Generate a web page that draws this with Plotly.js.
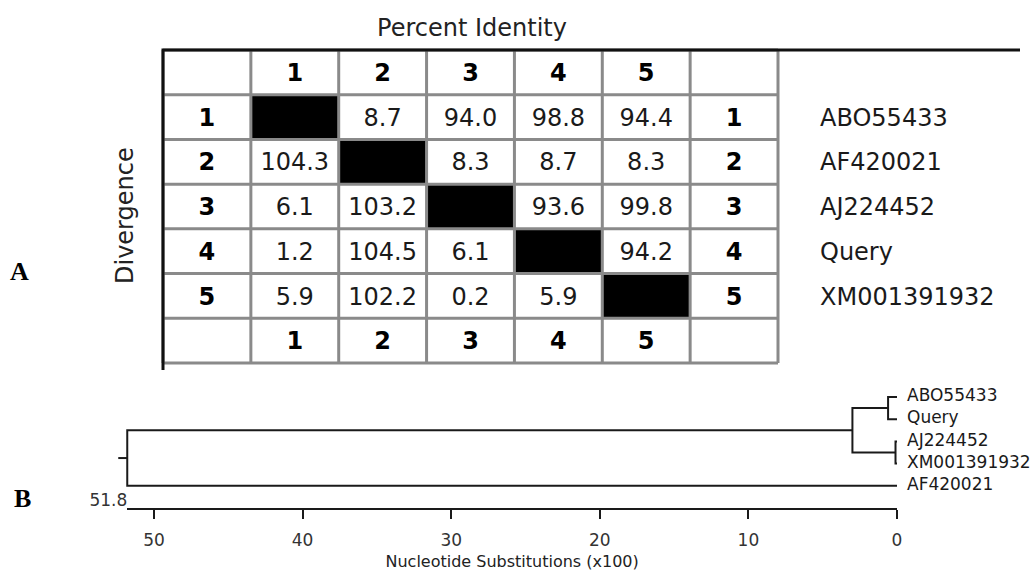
<!DOCTYPE html>
<html><head><meta charset="utf-8">
<script src="https://cdn.plot.ly/plotly-3.0.1.min.js"></script>
<style>html,body{margin:0;padding:0;background:#fff}#chart{width:1031px;height:571px}</style>
</head><body><div id="chart"></div>
<script>
// ---------------- data ----------------
const seqIds = [1, 2, 3, 4, 5];
const seqNames = ['ABO55433', 'AF420021', 'AJ224452', 'Query', 'XM001391932'];
// upper triangle = percent identity, lower triangle = divergence, diagonal empty
const row1 = [null, 8.7, 94.0, 98.8, 94.4];
const row2 = [104.3, null, 8.3, 8.7, 8.3];
const row3 = [6.1, 103.2, null, 93.6, 99.8];
const row4 = [1.2, 104.5, 6.1, null, 94.2];
const row5 = [5.9, 102.2, 0.2, 5.9, null];
const matrixRows = [row1, row2, row3, row4, row5];
const tableTitle = 'Percent Identity';
const sideTitle = 'Divergence';

const treeLeaves = ['ABO55433', 'Query', 'AJ224452', 'XM001391932', 'AF420021'];
// internal nodes: children (0-4 = leaves, 5+ = internal nodes in order) and heights
const nodeChildren = [[0, 1], [2, 3], [5, 6], [7, 4]];
const nodeHeights = [0.6, 0.1, 3.0, 51.8];
const scaleTicks = [0, 10, 20, 30, 40, 50];
const scaleTitle = 'Nucleotide Substitutions (x100)';
const panelLabels = ['A', 'B'];

// ---------------- geometry (pixels) ----------------
const W = 1031, H = 571;
const pxX = v => v / W, pxY = v => 1 - v / H;
const TBL = {left: 163, right: 778, top: 50, bottom: 363, dl: 150, dr: 1031, dt: 40, db: 380, topLineEnd: 1020, leftLineEnd: 370, nameStart: 820};
const nCols = seqIds.length + 2, nRows = seqIds.length + 2;
const cw = (TBL.right - TBL.left) / nCols, rh = (TBL.bottom - TBL.top) / nRows;
const TR = {zero: 897, tick50: 154, leaf0: 397, step: 22.2, axis: 508, dl: 95, dr: 1031, dt: 375, labelGap: 10, stub: 9};
const sx = (TR.zero - TR.tick50) / scaleTicks[scaleTicks.length - 1];
const rootH = nodeHeights[nodeHeights.length - 1];

const FONT = 'DejaVu Sans';
const INK = '#1a1a1a';
const traces = [];

// ---------------- table ----------------
// black diagonal cells
const z = [];
for (let r = 0; r < nRows; r++) {
  const zr = [];
  for (let c = 0; c < nCols; c++) {
    const inData = r >= 1 && r <= seqIds.length && c >= 1 && c <= seqIds.length;
    zr.push(inData && matrixRows[r - 1][c - 1] === null ? 1 : null);
  }
  z.push(zr);
}
traces.push({type: 'heatmap', xaxis: 'x', yaxis: 'y', z: z,
  x: [...Array(nCols).keys()], y: [...Array(nRows).keys()],
  colorscale: [[0, '#000'], [1, '#000']], zmin: 0, zmax: 1, showscale: false, hoverinfo: 'skip'});

// gray grid
const gx = [], gy = [];
for (let i = 0; i <= nCols; i++) { gx.push(i - 0.5, i - 0.5, null); gy.push(-0.5, nRows - 0.5, null); }
for (let j = 0; j <= nRows; j++) { gx.push(-0.5, nCols - 0.5, null); gy.push(j - 0.5, j - 0.5, null); }
traces.push({type: 'scatter', mode: 'lines', xaxis: 'x', yaxis: 'y', x: gx, y: gy,
  line: {color: '#8a8a8a', width: 3}, hoverinfo: 'skip'});
// black top and left frame
const topEnd = -0.5 + (TBL.topLineEnd - TBL.left) / cw;
const leftEnd = -0.5 + (TBL.leftLineEnd - TBL.top) / rh;
traces.push({type: 'scatter', mode: 'lines', xaxis: 'x', yaxis: 'y',
  x: [topEnd, -0.5, -0.5], y: [-0.5, -0.5, leftEnd],
  line: {color: '#111', width: 3}, hoverinfo: 'skip'});

// index labels (bold)
const ix = [], iy = [], it = [];
seqIds.forEach((id, k) => {
  ix.push(k + 1, k + 1, 0, nCols - 1); iy.push(0, nRows - 1, k + 1, k + 1);
  it.push(String(id), String(id), String(id), String(id));
});
const tdy = 0.06;
traces.push({type: 'scatter', mode: 'text', xaxis: 'x', yaxis: 'y', x: ix, y: iy.map(v => v + tdy), text: it,
  textposition: 'middle center', textfont: {family: FONT, size: 24, color: '#000', weight: 'bold'},
  cliponaxis: false, hoverinfo: 'skip'});
// values
const vx = [], vy = [], vt = [];
matrixRows.forEach((row, r) => row.forEach((v, c) => {
  if (v !== null) { vx.push(c + 1); vy.push(r + 1); vt.push(v.toFixed(1)); }
}));
traces.push({type: 'scatter', mode: 'text', xaxis: 'x', yaxis: 'y', x: vx, y: vy.map(v => v + tdy), text: vt,
  textposition: 'middle center', textfont: {family: FONT, size: 24, color: INK},
  cliponaxis: false, hoverinfo: 'skip'});
// sequence names
const nameX = -0.5 + (TBL.nameStart - TBL.left) / cw;
traces.push({type: 'scatter', mode: 'text', xaxis: 'x', yaxis: 'y',
  x: seqNames.map(() => nameX), y: seqNames.map((n, k) => k + 1 + tdy), text: seqNames,
  textposition: 'middle right', textfont: {family: FONT, size: 24, color: INK},
  cliponaxis: false, hoverinfo: 'skip'});

// ---------------- tree ----------------
const NX = [], NY = [];
treeLeaves.forEach((n, i) => { NX.push(0); NY.push(i); });
const tx = [], ty = [];
nodeChildren.forEach((ch, k) => {
  const h = nodeHeights[k];
  const [a, b] = ch;
  tx.push(NX[a], h, h, NX[b], null);
  ty.push(NY[a], NY[a], NY[b], NY[b], null);
  NX.push(h); NY.push((NY[a] + NY[b]) / 2);
});
const rootY = NY[NY.length - 1];
tx.push(rootH, rootH + TR.stub / sx, null); ty.push(rootY, rootY, null);
traces.push({type: 'scatter', mode: 'lines', xaxis: 'x2', yaxis: 'y2', x: tx, y: ty,
  line: {color: '#1a1a1a', width: 2}, hoverinfo: 'skip'});
traces.push({type: 'scatter', mode: 'text', xaxis: 'x2', yaxis: 'y2',
  x: treeLeaves.map(() => -TR.labelGap / sx), y: treeLeaves.map((n, i) => i), text: treeLeaves,
  textposition: 'middle right', textfont: {family: FONT, size: 17, color: INK},
  cliponaxis: false, hoverinfo: 'skip'});
// root height label on scale bar
const baseIdx = (TR.axis - 6 - TR.leaf0) / TR.step;
traces.push({type: 'scatter', mode: 'text', xaxis: 'x3', yaxis: 'y2',
  x: [rootH], y: [baseIdx], text: [rootH.toFixed(1)],
  textposition: 'middle left', textfont: {family: FONT, size: 17, color: '#333'},
  cliponaxis: false, hoverinfo: 'skip'});

const hidden = {showgrid: false, zeroline: false, showticklabels: false, ticks: '', showline: false};
const layout = {
  width: W, height: 571, margin: {l: 0, r: 0, t: 0, b: 0},
  paper_bgcolor: '#fff', plot_bgcolor: 'rgba(0,0,0,0)', showlegend: false,
  title: {text: tableTitle, font: {family: FONT, size: 24, color: '#222'},
    x: pxX(472), xanchor: 'center', y: pxY(28), yanchor: 'middle', xref: 'paper', yref: 'paper'},
  xaxis: Object.assign({}, hidden, {anchor: 'y', domain: [pxX(TBL.dl), pxX(TBL.dr)],
    range: [-0.5 - (TBL.left - TBL.dl) / cw, -0.5 + (TBL.dr - TBL.left) / cw]}),
  yaxis: Object.assign({}, hidden, {anchor: 'x', domain: [pxY(TBL.db), pxY(TBL.dt)],
    range: [-0.5 + (TBL.db - TBL.top) / rh, -0.5 - (TBL.top - TBL.dt) / rh]}),
  xaxis2: Object.assign({}, hidden, {anchor: 'y2', domain: [pxX(TR.dl), pxX(TR.dr)],
    range: [(TR.zero - TR.dl) / sx, (TR.zero - TR.dr) / sx]}),
  yaxis2: Object.assign({}, hidden, {anchor: 'x2', domain: [pxY(TR.axis), pxY(TR.dt)],
    range: [(TR.axis - TR.leaf0) / TR.step, (TR.dt - TR.leaf0) / TR.step]}),
  xaxis3: {anchor: 'y2', domain: [pxX(TR.zero - rootH * sx), pxX(TR.zero)], range: [rootH, 0],
    showgrid: false, zeroline: false, showline: true, linecolor: '#1a1a1a', linewidth: 2,
    ticks: 'outside', ticklen: 9, tickwidth: 2, tickcolor: '#1a1a1a', tickvals: scaleTicks,
    tickfont: {family: FONT, size: 17, color: '#333'}, ticklabelstandoff: 7,
    title: {text: scaleTitle, font: {family: FONT, size: 16, color: '#222'}, standoff: 12}},
  annotations: [
    {text: sideTitle, textangle: -90, xref: 'paper', yref: 'paper', x: pxX(125), y: pxY(216),
      xanchor: 'center', yanchor: 'middle', showarrow: false, font: {family: FONT, size: 24, color: '#222'}},
    {text: '<b>' + panelLabels[0] + '</b>', xref: 'paper', yref: 'paper', x: pxX(19), y: pxY(271),
      xanchor: 'center', yanchor: 'middle', showarrow: false, font: {family: 'Liberation Serif', size: 26, color: '#000'}},
    {text: '<b>' + panelLabels[1] + '</b>', xref: 'paper', yref: 'paper', x: pxX(22), y: pxY(498),
      xanchor: 'center', yanchor: 'middle', showarrow: false, font: {family: 'Liberation Serif', size: 26, color: '#000'}}
  ]
};
Plotly.newPlot('chart', traces, layout, {staticPlot: true, displayModeBar: false});
</script></body></html>
